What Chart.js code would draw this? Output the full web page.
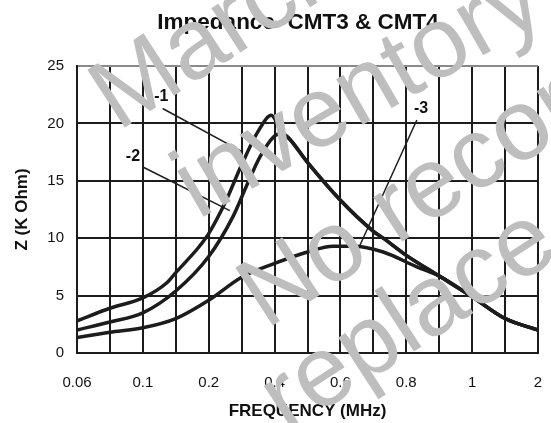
<!DOCTYPE html>
<html>
<head>
<meta charset="utf-8">
<script src="https://cdn.jsdelivr.net/npm/chart.js@4/dist/chart.umd.min.js"></script>
<style>
  html, body { margin: 0; padding: 0; background: #fff; }
  #wrap { width: 551px; height: 423px; }
</style>
</head>
<body>
<div id="wrap"><canvas id="impChart" width="551" height="423"></canvas></div>
<script>
// tick frequencies (MHz) - labels are evenly spaced on the axis
const tickFreqs = [0.06, 0.1, 0.2, 0.4, 0.6, 0.8, 1, 2];
const tickLabels = ["0.06", "0.1", "0.2", "0.4", "0.6", "0.8", "1", "2"];
const zTicks = [0, 5, 10, 15, 20, 25];

// curve -1
const freq1 = [0.06, 0.08, 0.1, 0.136, 0.15, 0.186, 0.2, 0.25, 0.3, 0.35, 0.39, 0.42, 0.44, 0.5, 0.6, 0.7, 0.73, 0.8, 0.9, 1, 1.5, 2];
const z1 = [2.8, 3.9, 4.8, 6.1, 7.0, 9.3, 10.4, 13.1, 16.4, 19.3, 20.7, 19.3, 18.8, 16.6, 13.3, 10.6, 10.0, 8.5, 6.7, 4.9, 3.0, 2.0];

// curve -2
const freq2 = [0.06, 0.08, 0.1, 0.15, 0.2, 0.274, 0.314, 0.356, 0.396, 0.416, 0.44, 0.5, 0.6, 0.7, 0.73, 0.8, 0.9, 1, 1.5, 2];
const z2 = [2.0, 2.7, 3.5, 5.4, 8.4, 11.9, 14.5, 17.1, 18.8, 19.1, 18.8, 16.6, 13.3, 10.6, 10.0, 8.5, 6.7, 4.9, 3.0, 2.0];

// curve -3
const freq3 = [0.06, 0.08, 0.1, 0.15, 0.2, 0.3, 0.4, 0.5, 0.578, 0.64, 0.73, 0.832, 0.9, 1, 1.5, 2];
const z3 = [1.35, 1.8, 2.2, 3.0, 4.6, 6.6, 7.8, 8.8, 9.3, 9.3, 8.8, 7.5, 6.7, 4.9, 3.0, 2.0];

// callout leader lines and their tags
const leaderFreqs = [[0.13, 0.304], [0.1, 0.264], [0.832, 0.65]];
const leaderZ = [[21.3, 17.5], [16.2, 12.4], [20.3, 8.8]];
const calloutText = ["-1", "-2", "-3"];
const calloutFreq = [0.128, 0.094, 0.845];
const calloutZ = [22.3, 17.1, 21.3];

const chartTitle = "Impedance  CMT3 & CMT4";
const watermark = ["March", "inventory", "No record", "replace"];

const FONT = "'Liberation Sans', Arial, sans-serif";

// map a frequency onto the evenly spaced label axis (piecewise linear)
function freqPos(f){
    for(let i = 0; i < tickFreqs.length - 1; i++){
        const a = tickFreqs[i], b = tickFreqs[i + 1];
        if(f <= b || i === tickFreqs.length - 2){
            return i + (f - a) / (b - a);
        }
    }
    return 0;
}

function toPoints(fs, zs){
    return fs.map((f, i) => ({ x: freqPos(f), y: zs[i] }));
}

const curveStyle = {
    borderColor: "#1c1c1c",
    borderWidth: 3.5,
    pointRadius: 0,
    fill: false,
    cubicInterpolationMode: "monotone"
};

const datasets = [
    Object.assign({ label: "-1", data: toPoints(freq1, z1) }, curveStyle),
    Object.assign({ label: "-2", data: toPoints(freq2, z2) }, curveStyle),
    Object.assign({ label: "-3", data: toPoints(freq3, z3) }, curveStyle)
];

leaderFreqs.forEach((fs, i) => {
    datasets.push({
        label: "lead" + i,
        data: toPoints(fs, leaderZ[i]),
        borderColor: "#1c1c1c",
        borderWidth: 1.5,
        pointRadius: 0,
        tension: 0
    });
});

// title, -1/-2/-3 tags and the grey watermark
const overlayPlugin = {
    id: "overlay",
    afterDatasetsDraw(chart){
        const ctx = chart.ctx;
        const xs = chart.scales.x, ys = chart.scales.y;
        ctx.save();
        ctx.fillStyle = "#111";
        ctx.textAlign = "center";
        ctx.textBaseline = "middle";
        ctx.font = "bold 22.5px " + FONT;
        ctx.fillText(chartTitle, 298, 23);
        ctx.font = "bold 16px " + FONT;
        calloutText.forEach((t, i) => {
            ctx.fillText(t, xs.getPixelForValue(freqPos(calloutFreq[i])), ys.getPixelForValue(calloutZ[i]));
        });
        ctx.restore();
    },
    afterDraw(chart){
        const ctx = chart.ctx;
        // [x, y, angle] for each watermark line
        const spots = [[118, 132, 33], [198, 220, 30], [266, 330, 33], [287, 434, 33]];
        ctx.save();
        ctx.fillStyle = "rgb(190,190,190)";
        ctx.font = "100px " + FONT;
        ctx.textAlign = "left";
        ctx.textBaseline = "alphabetic";
        watermark.forEach((t, i) => {
            ctx.save();
            ctx.translate(spots[i][0], spots[i][1]);
            ctx.rotate(-spots[i][2] * Math.PI / 180);
            ctx.fillText(t, 0, 0);
            ctx.restore();
        });
        ctx.restore();
    }
};

new Chart(document.getElementById("impChart"), {
    type: "line",
    data: { datasets: datasets },
    options: {
        responsive: false,
        animation: false,
        devicePixelRatio: 1,
        layout: { padding: { top: 66, left: 0, right: 13, bottom: 0 } },
        plugins: {
            legend: { display: false },
            tooltip: { enabled: false },
            title: { display: false }
        },
        scales: {
            x: {
                type: "linear",
                min: 0,
                max: tickFreqs.length - 1,
                afterBuildTicks(scale){
                    const t = [];
                    for(let v = 0; v <= tickFreqs.length - 1; v += 0.5) t.push({ value: v });
                    scale.ticks = t;
                },
                afterFit(scale){
                    scale.height = 70;
                    scale.paddingLeft = 0;
                    scale.paddingRight = 0;
                },
                ticks: {
                    autoSkip: false,
                    maxRotation: 0,
                    color: "#111",
                    padding: 21,
                    font: { family: FONT, size: 15 },
                    callback: (v) => Number.isInteger(v) ? tickLabels[v] : ""
                },
                grid: { color: "#1c1c1c", lineWidth: 2, drawTicks: false },
                border: { color: "#1c1c1c", width: 2 },
                title: {
                    display: true,
                    text: "FREQUENCY (MHz)",
                    color: "#111",
                    font: { family: FONT, size: 17, weight: "bold" },
                    padding: { top: 0, bottom: 1 }
                }
            },
            y: {
                min: 0,
                max: 25,
                afterBuildTicks(scale){
                    scale.ticks = zTicks.map(v => ({ value: v }));
                },
                afterFit(scale){ scale.width = 77; },
                ticks: {
                    color: "#111",
                    padding: 13,
                    font: { family: FONT, size: 15 }
                },
                grid: {
                    color: (c) => c.tick && c.tick.value === 25 ? "#8a8a8a" : "#1c1c1c",
                    lineWidth: 2,
                    drawTicks: false
                },
                border: { color: "#1c1c1c", width: 2 },
                title: {
                    display: true,
                    text: "Z (K Ohm)",
                    color: "#111",
                    font: { family: FONT, size: 17, weight: "bold" },
                    padding: { top: 12, bottom: 0 }
                }
            }
        }
    },
    plugins: [overlayPlugin]
});
</script>
</body>
</html>
